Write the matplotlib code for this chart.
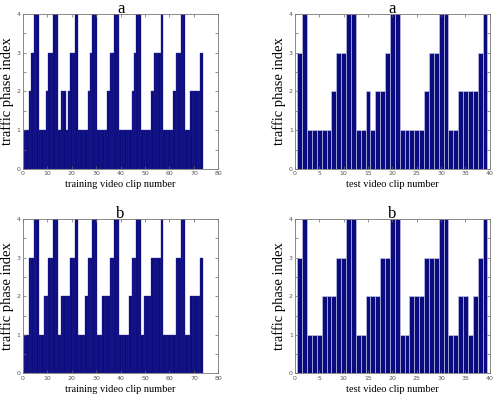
import numpy as np
from matplotlib import pyplot as plt

# traffic phase index per clip
train_a = [1, 1, 2, 3, 4, 4, 1, 1, 1, 2, 3, 3, 4, 4, 1, 2, 2, 1, 2, 3,
           3, 4, 1, 1, 1, 1, 2, 3, 4, 4, 1, 1, 1, 1, 2, 3, 3, 4, 4, 1,
           1, 1, 1, 1, 2, 3, 4, 4, 1, 1, 1, 1, 2, 3, 3, 3, 4, 1, 1, 1,
           1, 2, 3, 3, 4, 4, 1, 1, 2, 2, 2, 2, 3]
train_b = [1, 1, 3, 3, 4, 4, 1, 1, 2, 2, 3, 3, 4, 4, 1, 2, 2, 2, 2, 3,
           3, 4, 1, 1, 1, 2, 3, 3, 4, 4, 1, 1, 2, 2, 2, 3, 3, 4, 4, 1,
           1, 1, 1, 2, 3, 3, 4, 4, 1, 2, 2, 2, 3, 3, 3, 3, 4, 1, 1, 1,
           1, 1, 3, 3, 4, 4, 1, 1, 2, 2, 2, 2, 3]
test_a = [3, 4, 1, 1, 1, 1, 1, 2, 3, 3, 4, 4, 1, 1, 2, 1, 2, 2, 3, 4,
          4, 1, 1, 1, 1, 1, 2, 3, 3, 4, 4, 1, 1, 2, 2, 2, 2, 3, 4]
test_b = [3, 4, 1, 1, 1, 2, 2, 2, 3, 3, 4, 4, 1, 1, 2, 2, 2, 3, 3, 4,
          4, 1, 1, 2, 2, 2, 3, 3, 3, 4, 4, 1, 1, 2, 2, 1, 2, 3, 4]

titles = ['a', 'a', 'b', 'b']
xlabels = ['training video clip number', 'test video clip number',
           'training video clip number', 'test video clip number']

serif = ['Liberation Serif', 'DejaVu Serif']
navy = '#0b0b80'

fig = plt.figure(figsize=(4.98, 4.01), dpi=100)

boxes = [[0.0456, 0.5786, 0.393, 0.3865],
         [0.592, 0.5786, 0.3916, 0.3865],
         [0.0456, 0.0686, 0.393, 0.385],
         [0.592, 0.0686, 0.3916, 0.385]]
series = [train_a, test_a, train_b, test_b]
xmax = [80, 40, 80, 40]
xstep = [10, 5, 10, 5]
edges = ['#2a2a90', '#d0d0ec', '#2a2a90', '#d0d0ec']
ewidth = [0.25, 0.4, 0.25, 0.4]

for i in range(4):
    ax = fig.add_axes(boxes[i])
    ys = series[i]
    xs = np.arange(1, len(ys) + 1)
    ax.bar(xs, ys, width=1.0, color=navy, edgecolor=edges[i], linewidth=ewidth[i])
    ax.set_xlim(0, xmax[i])
    ax.set_ylim(0, 4)
    ax.set_xticks(np.arange(0, xmax[i] + 1, xstep[i]))
    yt = np.arange(0, 4.01, 0.5)
    ax.set_yticks(yt)
    ax.set_yticklabels([str(int(v)) if v == int(v) else '' for v in yt])
    ax.tick_params(direction='in', length=2.5, width=0.5, labelsize=4.5,
                   labelcolor='#555555', color='#666666', pad=1.5,
                   top=True, right=True)
    for s in ax.spines.values():
        s.set_color('#777777')
        s.set_linewidth(0.6)
    ax.set_title(titles[i], family=serif, fontsize=12, pad=0.5)
    ax.set_xlabel(xlabels[i], family=serif, fontsize=7.5, labelpad=3)
    ax.set_ylabel('traffic phase index', family=serif, fontsize=10.5, labelpad=2)

fig.savefig('out.png', dpi=100)
